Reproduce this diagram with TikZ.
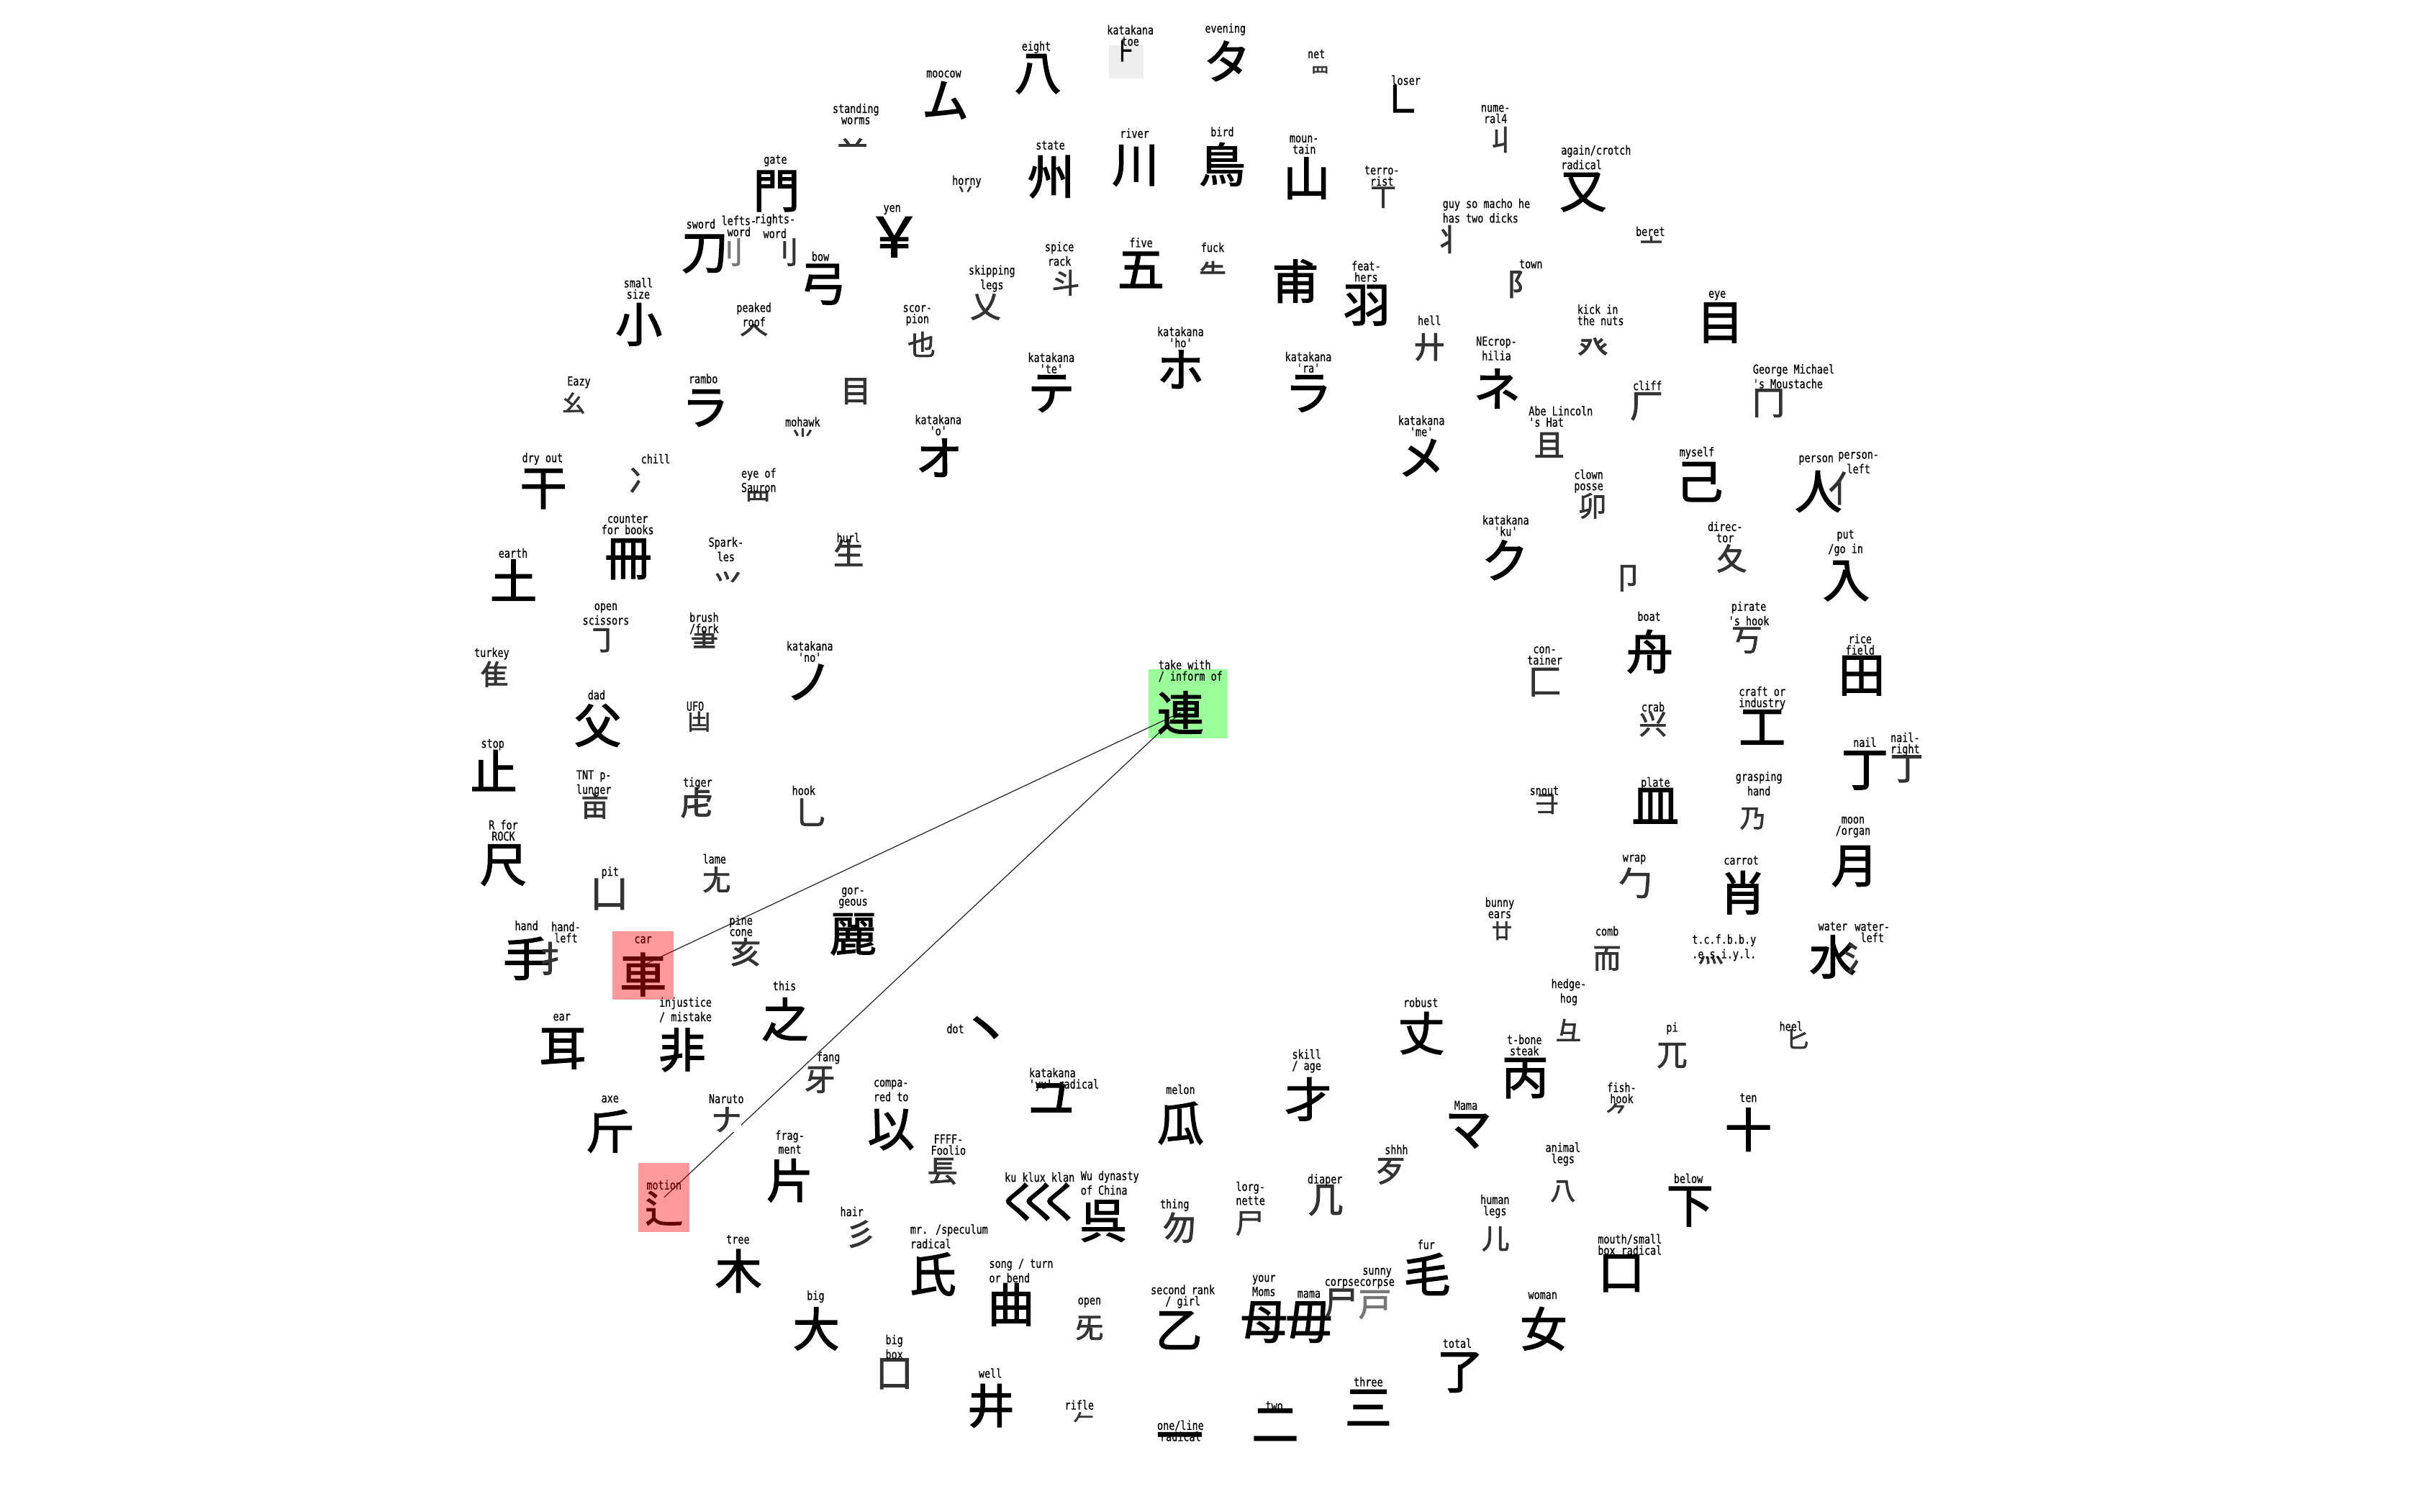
\documentclass[tikz,border=0pt]{standalone}
\usepackage{fontspec}
\newfontfamily\labfont[FakeStretch=0.78,FakeBold=0.5]{DejaVu Sans Mono}
\newfontfamily\cjfont[FakeBold=2.2]{Noto Sans CJK JP}
\definecolor{gtxt}{HTML}{333333}
\definecolor{gblur}{HTML}{777777}
\definecolor{boxgreen}{HTML}{99FF99}
\definecolor{boxgray}{HTML}{EEEEEE}
\pgfdeclarelayer{bg}\pgfdeclarelayer{mid}\pgfsetlayers{bg,mid,main}
\newcommand\KL[7]{\node[#2] (#1) at (#3) {#4};\node[lab,#5] (#1l) at (#6) {#7};}
\begin{document}
\begin{tikzpicture}[x=0.0214286cm,y=-0.0214286cm,
  lab/.style={font=\labfont\fontsize{4.9}{4.45}\selectfont, inner sep=0pt, align=center},
  kb/.style={font=\cjfont\fontsize{18.5}{18.5}\selectfont, inner sep=0pt, text=black},
  kg/.style={font=\cjfont\fontsize{12}{12}\selectfont, inner sep=0pt, text=gtxt},
  fs/.style={font=\cjfont\fontsize{#1}{#1}\selectfont},
  conn/.style={draw=black!85, line width=0.35pt}]
\useasboundingbox (0,0) rectangle (1568,980);
\begin{pgfonlayer}{bg}
\fill[boxgreen] (745,434) rectangle (796,479);
\fill[boxgray] (719.2,29.2) rectangle (741.5,51);
\end{pgfonlayer}
\KL{moocow}{kb}{613,65}{ム}{}{612,48}{moocow}
\KL{eight}{kb}{673,48}{八}{}{672,30.6}{eight}
\KL{toe}{kb,fs=9}{729,33}{⺊}{}{733,23}{katakana\\toe}
\KL{evening}{kb}{795.7,39.6}{タ}{}{794.6,19}{evening}
\KL{net}{kg,fs=7}{856,47.5}{罒}{}{853.6,35}{net}
\KL{loser}{kb,fs=15}{909,64.6}{㇗}{}{911.7,52}{loser}
\KL{worms}{kg}{552.8,95.5}{䒑}{}{555,73.9}{standing\\worms}
\KL{num4}{kg,fs=11}{973.5,90.6}{丩}{}{969.8,74}{nume-\\ral4}
\KL{state}{kb}{681.5,114.6}{州}{}{681.1,94.2}{state}
\KL{river}{kb}{736.3,107.3}{川}{}{735.7,86.4}{river}
\KL{bird}{kb}{792.6,106.6}{鳥}{}{792.6,85.4}{bird}
\KL{mountain}{kb}{847.3,115.6}{山}{}{845.7,93.8}{moun-\\tain}
\KL{terror}{kg,fs=10}{897,128}{丅}{}{896.1,114}{terro-\\rist}
\KL{horny}{kg,fs=7}{626,124}{丷}{}{626.9,117.7}{horny}
\KL{gate}{kb}{503.5,123.9}{門}{}{502.8,104.2}{gate}
\KL{yen}{kb,fs=22}{579.9,153.7}{￥}{}{578.5,136}{yen}
\KL{crotch}{kb}{1026.6,124.6}{又}{align=left,anchor=west}{1012,102}{again/crotch\\radical}
\KL{macho}{kg}{939.4,155.2}{丬}{align=left,anchor=west}{935.2,136.6}{guy so macho he\\has two dicks}
\KL{sword}{kb}{457,164.6}{刀}{}{454.5,145.2}{sword}
\KL{lefts}{kg,text=gblur}{472.2,163.5}{⺉}{}{479.2,146.6}{lefts-\\word}
\KL{rights}{kg}{508.1,163.5}{刂}{}{502.5,146.6}{rights-\\word}
\KL{bow}{kb}{533.7,184.4}{弓}{}{532,166.2}{bow}
\KL{beret}{kg,fs=9}{1070.8,158}{亠}{}{1070.2,150}{beret}
\KL{five}{kb}{739.9,175}{五}{}{739.9,157.3}{five}
\KL{fuck}{kg,fs=11}{786.3,177}{⺧}{}{786.3,160.4}{fuck}
\node[kb] (fu) at (840,182.3) {甫};
\KL{feathers}{kb}{886.3,197.9}{羽}{}{885.9,176}{feat-\\hers}
\KL{spice}{kg,fs=11}{691.1,183.3}{斗}{}{687,164.6}{spice\\rack}
\KL{skip}{kg}{639,199}{乂}{}{643.2,180.6}{skipping\\legs}
\KL{town}{kg}{986.9,184.4}{阝}{}{992.7,171.2}{town}
\KL{small}{kb}{414.3,210.4}{小}{}{413.9,187}{small\\size}
\KL{roof}{kg,fs=11}{488.9,216}{𠆢}{}{488.9,204}{peaked\\roof}
\KL{scorpion}{kg,fs=11}{597.6,223.3}{也}{}{594.9,204.5}{scor-\\pion}
\KL{eye}{kb}{1115.6,209.3}{目}{}{1113.5,191.6}{eye}
\KL{kick}{kg}{1032.9,226}{癶}{align=left,anchor=west}{1022.5,204.2}{kick in\\the nuts}
\KL{hell}{kg}{926.9,225}{廾}{}{926.9,207.7}{hell}
\KL{necro}{kb}{970.8,252}{ネ}{}{970.4,226}{NEcrop-\\hilia}
\KL{kho}{kb}{765.5,239.5}{ホ}{}{765.5,218.6}{katakana\\'ho'}
\KL{kte}{kb}{681.7,255.2}{テ}{}{681.7,235.4}{katakana\\'te'}
\KL{kra}{kb}{848.4,255.2}{ラ}{}{848.4,234.9}{katakana\\'ra'}
\KL{rambo}{kb}{457.4,264.6}{ラ}{}{456,245.5}{rambo}
\KL{eazy}{kg,fs=9}{372,261.4}{幺}{}{375.4,247.9}{Eazy}
\node[kg] (mok) at (554.9,253.7) {目};
\KL{mohawk}{kg,fs=9}{520.5,284}{⺌}{}{520.5,273.5}{mohawk}
\KL{cliff}{kg,fs=13}{1067.7,263.5}{厂}{}{1068.3,250}{cliff}
\KL{george}{kg,fs=13}{1146.8,261.4}{冂}{align=left,anchor=west}{1136.4,244}{George Michael\\'s Moustache}
\KL{abe}{kg}{1004.6,288.5}{且}{align=left,anchor=west}{991,270}{Abe Lincoln\\'s Hat}
\KL{kme}{kb}{921.7,296.8}{メ}{}{921.7,276.2}{katakana\\'me'}
\KL{ko}{kb}{609,296.8}{オ}{}{608.4,275.7}{katakana\\'o'}
\KL{dry}{kb}{352.4,317}{干}{}{351.8,297.5}{dry out}
\KL{chill}{kg}{417.4,311.4}{冫}{}{425.1,297.5}{chill}
\KL{sauron}{kg,fs=10}{491.4,325}{⺲}{}{492,311.4}{eye of\\Sauron}
\KL{myself}{kb}{1102.1,312.5}{己}{}{1100.4,293.7}{myself}
\KL{person}{kb}{1179.1,318.7}{人}{}{1177.7,298.3}{person}
\KL{personl}{kg,fs=14}{1197.2,316.6}{亻}{}{1205.2,300}{person-\\left}
\KL{clown}{kg,fs=11}{1032.7,328}{卯}{}{1030.2,312}{clown\\posse}
\KL{books}{kb}{407.4,362.5}{冊}{}{407,340}{counter\\for books}
\KL{earth}{kb}{333,376.1}{土}{}{332.7,358.6}{earth}
\KL{sparkles}{kg,fs=11}{472,378.1}{⺍}{}{470.8,356.2}{Spark-\\les}
\KL{hurl}{kg}{550.3,358.4}{生}{}{550.1,348.6}{hurl}
\KL{kku}{kb}{976,363.2}{ク}{}{976.4,340.8}{katakana\\'ku'}
\node[kg] (seal) at (1055.8,375) {卩};
\KL{director}{kg}{1122.9,362.1}{夂}{}{1118.7,345}{direc-\\tor}
\KL{put}{kb}{1197.2,376.7}{入}{}{1196.8,352}{put\\/go in}
\KL{scissors}{kg}{390.4,415.2}{㇆}{}{392.9,398.2}{open\\scissors}
\KL{brush}{kg,fs=11}{456.6,416.7}{⺻}{}{456.6,404.2}{brush\\/fork}
\KL{kno}{kb}{524.7,442.3}{ノ}{}{525.1,422.5}{katakana\\'no'}
\KL{turkey}{kg,fs=11}{320.6,437.1}{隹}{}{318.9,423.8}{turkey}
\KL{boat}{kb}{1069.8,422.5}{舟}{}{1069.4,399.6}{boat}
\KL{pirate}{kg}{1132.7,415.2}{丂}{}{1134,397.8}{pirate\\'s hook}
\KL{rice}{kb}{1207.2,438.1}{田}{}{1206.2,417.8}{rice\\field}
\KL{container}{kg,fs=13}{1001.7,442.3}{匚}{}{1001.7,425.1}{con-\\tainer}
\KL{dad}{kb}{387.6,470.4}{父}{}{386.8,450.6}{dad}
\KL{ufo}{kg,fs=9}{453.3,467.9}{凷}{}{450.8,457.9}{UFO}
\KL{ren}{kb}{765.5,462.1}{連}{align=left,anchor=west}{750.9,435}{take with\\/ inform of}
\KL{crab}{kg,fs=11}{1071.9,469.4}{兴}{}{1071.9,458.3}{crab}
\KL{craft}{kb}{1142.7,471.5}{工}{}{1142.7,452.7}{craft or\\industry}
\KL{stop}{kb}{320.2,499.6}{止}{}{319.5,482.9}{stop}
\KL{tnt}{kg,fs=11}{385.8,522.5}{亩}{}{385.1,508}{TNT p-\\lunger}
\KL{tiger}{kg,fs=13}{451.8,520.4}{虍}{}{452.4,507.9}{tiger}
\KL{hook}{kg,fs=13}{525.8,526.7}{乚}{}{521.2,512.5}{hook}
\KL{nail}{kb}{1209.3,499.6}{丁}{}{1209.3,481.3}{nail}
\KL{nailr}{kg,fs=13}{1236.4,498.6}{丁}{}{1235.4,482.6}{nail-\\right}
\KL{snout}{kg,fs=9}{1003.1,521.5}{⺕}{}{1001.4,512.7}{snout}
\KL{plate}{kb}{1073.5,522.5}{皿}{}{1073.5,507.9}{plate}
\KL{grasp}{kg,fs=10}{1136.4,530.8}{乃}{}{1140.6,508.1}{grasping\\hand}
\KL{rock}{kb}{326.4,561}{尺}{}{326.4,538.5}{R for\\ROCK}
\KL{pit}{kg,fs=15}{395.1,579.8}{凵}{}{395.6,565.8}{pit}
\KL{lame}{kg,fs=11}{464.7,570.4}{尢}{}{463.3,556.9}{lame}
\KL{moon}{kb}{1202.7,561.7}{月}{}{1201.6,536.3}{moon\\/organ}
\KL{wrap}{kg,fs=13}{1060.4,572.5}{勹}{}{1059.8,557.3}{wrap}
\KL{carrot}{kb}{1130.2,578.8}{肖}{}{1129.1,557.9}{carrot}
\KL{bunny}{kg,fs=8}{973.9,603.5}{廿}{}{972.5,588.7}{bunny\\ears}
\KL{gorgeous}{kb}{553.2,605.8}{麗}{}{553.2,582.2}{gor-\\geous}
\KL{hand}{kb}{341.4,621.5}{手}{}{341.4,600.2}{hand}
\KL{handl}{kg,fs=14}{361.5,621.5}{扌}{}{367,604.5}{hand-\\left}
\KL{car}{kb}{417,631.9}{車}{}{417,609.4}{car}
\KL{pine}{kg}{483.5,617.3}{亥}{}{480.5,600.3}{pine\\cone}
\KL{comb}{kg,fs=11}{1042.1,621.5}{而}{}{1042.1,603.7}{comb}
\KL{tcf}{kg,fs=10}{1109.3,622.5}{灬}{}{1118,614.5}{t.c.f.b.b.y\\.e.s.i.y.l.}
\KL{water}{kb}{1188.5,620.4}{水}{}{1188.5,600.6}{water}
\KL{waterl}{kg,fs=13}{1206.8,621.5}{氵}{}{1214.1,604.5}{water-\\left}
\KL{this}{kb}{509.1,661}{之}{}{508.7,639.2}{this}
\KL{ear}{kb}{364.9,680}{耳}{}{364.3,659.6}{ear}
\KL{injustice}{kb}{442.4,680.8}{非}{}{444.5,654.8}{injustice\\/ mistake}
\KL{hedgehog}{kg,fs=10}{1017.1,667.9}{⺔}{}{1017.3,643.3}{hedge-\\hog}
\KL{robust}{kb}{921.7,670}{丈}{}{921.3,650}{robust}
\KL{dot}{kb,fs=21}{639.5,670}{丶}{}{619.5,667}{dot}
\KL{pi}{kg}{1084.3,684.5}{兀}{}{1084.3,666.8}{pi}
\KL{heel}{kg,fs=9}{1165.6,673.7}{匕}{}{1161.4,665.4}{heel}
\KL{tbone}{kb}{989,699.1}{丙}{}{988.5,677.7}{t-bone\\steak}
\KL{fang}{kg}{531.6,700.2}{牙}{}{537.2,686}{fang}
\KL{kyu}{kb}{681.7,712.7}{ユ}{align=left,anchor=west}{667,700}{katakana\\'yu' radical}
\KL{skill}{kb}{848.4,712.7}{才}{}{847.3,688}{skill\\/ age}
\KL{axe}{kb}{395.6,733.5}{斤}{}{395.6,712.7}{axe}
\KL{naruto}{kg,fill=white}{471,726}{ナ}{}{471,712.5}{Naruto}
\KL{compared}{kb}{577.8,732.5}{以}{}{577.8,707.2}{compa-\\red to}
\KL{melon}{kb}{765.5,728.3}{瓜}{}{765.5,706.4}{melon}
\KL{mamak}{kb}{952.1,733.5}{マ}{}{950.6,716.8}{Mama}
\KL{fishhook}{kg,fs=9}{1048.5,721.6}{⺈}{}{1051.6,708.7}{fish-\\hook}
\KL{ten}{kb}{1133.7,732.5}{十}{}{1133.7,711.8}{ten}
\KL{ffff}{kg}{611.2,759.5}{镸}{}{615,742.3}{FFFF-\\Foolio}
\KL{fragment}{kb}{512.2,765.4}{片}{}{512.2,740.6}{frag-\\ment}
\KL{shhh}{kg}{901.9,759.5}{歹}{}{905.5,745.4}{shhh}
\KL{animal}{kg,fs=10}{1013.5,772.5}{八}{}{1013.5,748.4}{animal\\legs}
\KL{kkk}{kb,fs=17}{674.2,779.3}{く\kern-0.52emく\kern-0.52emく}{}{674.2,763.3}{ku klux klan}
\KL{wu}{kb}{715.5,791.8}{呉}{align=left,anchor=west}{700.5,767}{Wu dynasty\\of China}
\KL{thing}{kg,fs=13}{764.8,796}{勿}{}{761.7,781.4}{thing}
\KL{lorg}{kg,fs=11}{810.3,793.3}{尸}{}{810.9,773.8}{lorg-\\nette}
\KL{diaper}{kg,fs=14}{859.6,778.3}{几}{}{859.2,765.2}{diaper}
\KL{below}{kb}{1095.8,782.4}{下}{}{1094.8,764.1}{below}
\KL{humanlegs}{kg,fs=11}{969.8,803.3}{儿}{}{969.4,782.2}{human\\legs}
\KL{motion}{kb,fs=15}{430.6,783.5}{辶}{}{430.6,768.3}{motion}
\KL{hair}{kg}{558,800.2}{彡}{}{552.4,785.6}{hair}
\KL{mr}{kb}{604.9,826.2}{氏}{align=left,anchor=west}{590,801.7}{mr. /speculum\\radical}
\KL{tree}{kb}{478.9,824.1}{木}{}{478.5,803.7}{tree}
\KL{fur}{kb}{925.4,826.2}{毛}{}{924.8,807}{fur}
\KL{mouth}{kb}{1051.4,825.6}{口}{}{1056.9,807}{mouth/small\\box radical}
\KL{song}{kb}{655.7,846}{曲}{align=left,anchor=west}{641.1,824}{song / turn\\or bend}
\KL{big}{kb}{529.3,861.6}{大}{}{528.9,840.8}{big}
\KL{open}{kg,fs=11}{706.5,861.2}{旡}{}{706.5,844.5}{open}
\KL{second}{kb}{764.4,862.6}{乙}{}{767,840.7}{second rank\\/ girl}
\KL{moms}{kb}{819.6,857.4}{母}{}{819.6,833.6}{your\\Moms}
\KL{mama}{kb}{848.8,857.4}{毋}{}{848.8,839.3}{mama}
\KL{corpse}{kg,fs=13}{869.6,845}{尸}{}{870.3,832.4}{corpse}
\KL{sunny}{kg,fs=13,text=gblur}{891.5,846}{戸}{}{893,828.8}{sunny\\corpse}
\KL{woman}{kb}{1001,861.6}{女}{}{1000.4,840.2}{woman}
\KL{total}{kb}{946.9,890}{了}{}{945,871}{total}
\KL{bigbox}{kg,fs=14}{579.9,890.8}{囗}{}{579.9,873.4}{big\\box}
\KL{three}{kb}{887.3,912.7}{三}{}{887.3,896}{three}
\KL{well}{kb}{642.6,911.6}{井}{}{642.2,890.4}{well}
\KL{rifle}{kg,fs=8}{702.6,920}{𠂉}{}{699.9,911}{rifle}
\KL{one}{kb}{765,935.5}{一}{}{765.5,927.8}{one/line\\radical}
\KL{two}{kb}{826.9,924.1}{二}{}{826.3,911.6}{two}
\begin{pgfonlayer}{mid}
\draw[conn] (ren.center) -- ([yshift=0.13cm]car.center);
\draw[conn] (ren.center) -- ([yshift=0.15cm]motion.center);
\end{pgfonlayer}
\fill[red, fill opacity=0.4] (397,604) rectangle (437,648);
\fill[red, fill opacity=0.4] (414,754) rectangle (447,799);
\end{tikzpicture}
\end{document}
